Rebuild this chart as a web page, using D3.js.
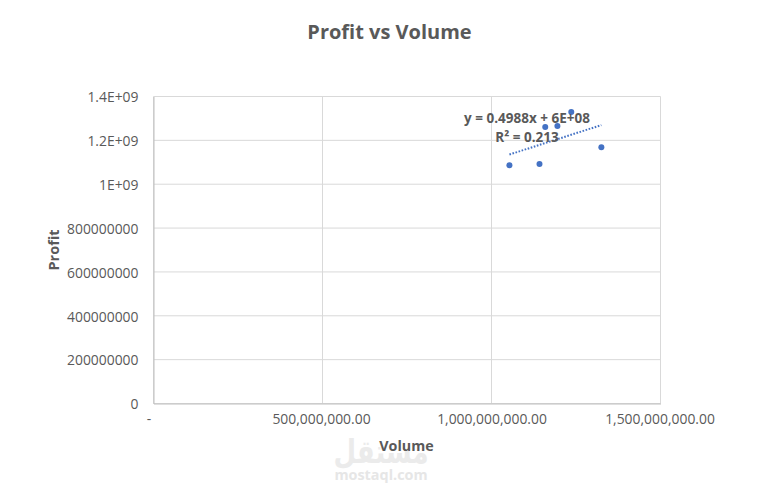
<!DOCTYPE html>
<html><head><meta charset="utf-8">
<script src="https://cdn.jsdelivr.net/npm/d3@7/dist/d3.min.js"></script>
<style>html,body{margin:0;padding:0;background:#fff}svg{display:block}text{font-family:"Open Sans",sans-serif}</style>
</head><body><svg id="c" width="762" height="493"></svg>
<script>
const volume = [1.053e9, 1.142e9, 1.159e9, 1.195e9, 1.236e9, 1.325e9];
const profit = [1.087e9, 1.092e9, 1.261e9, 1.265e9, 1.329e9, 1.169e9];
const xTicks = [0, 5e8, 1e9, 1.5e9];
const yTicks = [0, 2e8, 4e8, 6e8, 8e8, 1e9, 1.2e9, 1.4e9];
const yLabels = ["0","200000000","400000000","600000000","800000000","1E+09","1.2E+09","1.4E+09"];
const xLabels = ["-","500,000,000.00","1,000,000,000.00","1,500,000,000.00"];
const titleText = "Profit vs Volume", xTitle = "Volume", yTitle = "Profit";
const equation = "y = 0.4988x + 6E+08", rSquared = "R² = 0.213";

const svg = d3.select("#c");
const x = d3.scaleLinear().domain([0,1.5e9]).range([153.5,660.5]);
const y = d3.scaleLinear().domain([0,1.4e9]).range([403.5,96.5]);
const grid="#d9d9d9", ink="#595959";

// gridlines
svg.append("g").selectAll("line").data(yTicks).join("line")
 .attr("x1",x(0)).attr("x2",x(1.5e9)).attr("y1",d=>y(d)).attr("y2",d=>y(d)).attr("stroke",grid);
svg.append("g").selectAll("line").data(xTicks).join("line")
 .attr("y1",y(0)).attr("y2",y(1.4e9)).attr("x1",d=>x(d)).attr("x2",d=>x(d)).attr("stroke",grid);

// axes
const xa = svg.append("g").attr("transform",`translate(0,${y(0)})`)
 .call(d3.axisBottom(x).tickValues(xTicks).tickSize(0).tickPadding(11).tickFormat((d,i)=>xLabels[i]));
const ya = svg.append("g").attr("transform",`translate(${x(0)},0)`)
 .call(d3.axisLeft(y).tickValues(yTicks).tickSize(0).tickPadding(15).tickFormat((d,i)=>yLabels[i]));
[xa,ya].forEach(a=>{a.select(".domain").attr("stroke","#bfbfbf");
 a.selectAll("text").attr("fill",ink).style("font-size","13.9px").style("font-family","'Open Sans',sans-serif");});
xa.selectAll("text").filter((d,i)=>i===0).attr("dx",-5);
xa.selectAll("text").attr("x",(d,i)=>i===1?-1.5:i===3?-1:0);
ya.selectAll("text").attr("dy","0.38em");

// watermark
svg.append("text").attr("transform","translate(381,463) scale(1,1.25)").attr("text-anchor","middle")
 .attr("fill","#ebebeb").style("font-family","'Noto Sans','DejaVu Sans',sans-serif").style("font-size","26px").style("font-weight",700).attr("direction","rtl").text("مستقل");
svg.append("text").attr("x",381).attr("y",480).attr("text-anchor","middle")
 .attr("fill","#e6e6e6").style("font-size","14.4px").style("font-weight",700).text("mostaql.com");

// trendline (least squares on the data)
const mx=d3.mean(volume), my=d3.mean(profit);
const slope=d3.sum(volume,(v,i)=>(v-mx)*(profit[i]-my))/d3.sum(volume,v=>(v-mx)*(v-mx));
const icpt=my-slope*mx;
const xExt=d3.extent(volume);
svg.append("path").attr("d",d3.line().x(d=>x(d)).y(d=>y(slope*d+icpt))(xExt))
 .attr("fill","none").attr("stroke","#4472c4").attr("stroke-width",2).attr("stroke-dasharray","1.6 1.6");

// points
svg.append("g").selectAll("circle").data(volume).join("circle")
 .attr("cx",d=>x(d)).attr("cy",(d,i)=>y(profit[i])).attr("r",3).attr("fill","#4472c4");

// labels
svg.append("text").attr("x",527).attr("y",122.5).attr("text-anchor","middle").attr("fill",ink)
 .style("font-size","13.5px").style("font-weight",700).text(equation);
svg.append("text").attr("x",527).attr("y",141.5).attr("text-anchor","middle").attr("fill",ink)
 .style("font-size","13.5px").style("font-weight",700).text(rSquared);
svg.append("text").attr("x",389.5).attr("y",39).attr("text-anchor","middle").attr("fill",ink)
 .style("font-size","20px").style("font-weight",700).text(titleText);
svg.append("text").attr("x",406.5).attr("y",451).attr("text-anchor","middle").attr("fill",ink)
 .style("font-size","14.3px").style("font-weight",700).text(xTitle);
svg.append("text").attr("transform","translate(59,250) rotate(-90)").attr("text-anchor","middle").attr("fill",ink)
 .style("font-size","14.5px").style("font-weight",700).text(yTitle);
</script></body></html>
